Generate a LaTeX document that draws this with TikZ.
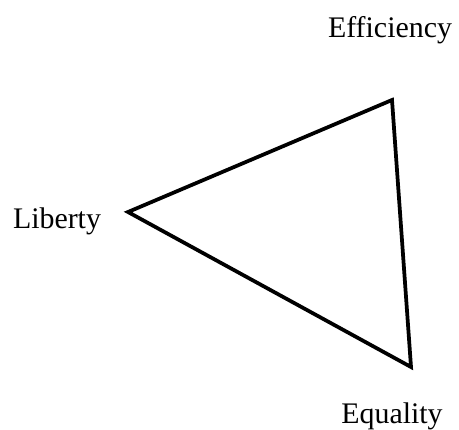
\documentclass[tikz,border=0pt]{standalone}
\usepackage{fontspec}
\setmainfont{Liberation Serif}
\usetikzlibrary{positioning}

\begin{document}
\begin{tikzpicture}[
    x=0.03cm, y=-0.03cm,
    % Node Styles
    goal/.style={
        font=\fontsize{25.5}{30}\selectfont,
        anchor=base,
        inner sep=0pt
    },
    side/.style={
        line width=3.2pt,
        line join=miter
    }
]

    % --- Frame ---
    \useasboundingbox (0,0) rectangle (459,429);

    % --- Corners of the triangle ---
    \coordinate (cLib) at (128,212);
    \coordinate (cEff) at (392,100);
    \coordinate (cEqu) at (411,367);

    \draw[side] (cLib) -- (cEff) -- (cEqu) -- cycle;

    % --- Labels ---
    \node[goal] (eff) at (390,38) {Efficiency};
    \node[goal] (lib) at (57,228) {Liberty};
    \node[goal] (equ) at (392,423) {Equality};

\end{tikzpicture}
\end{document}
